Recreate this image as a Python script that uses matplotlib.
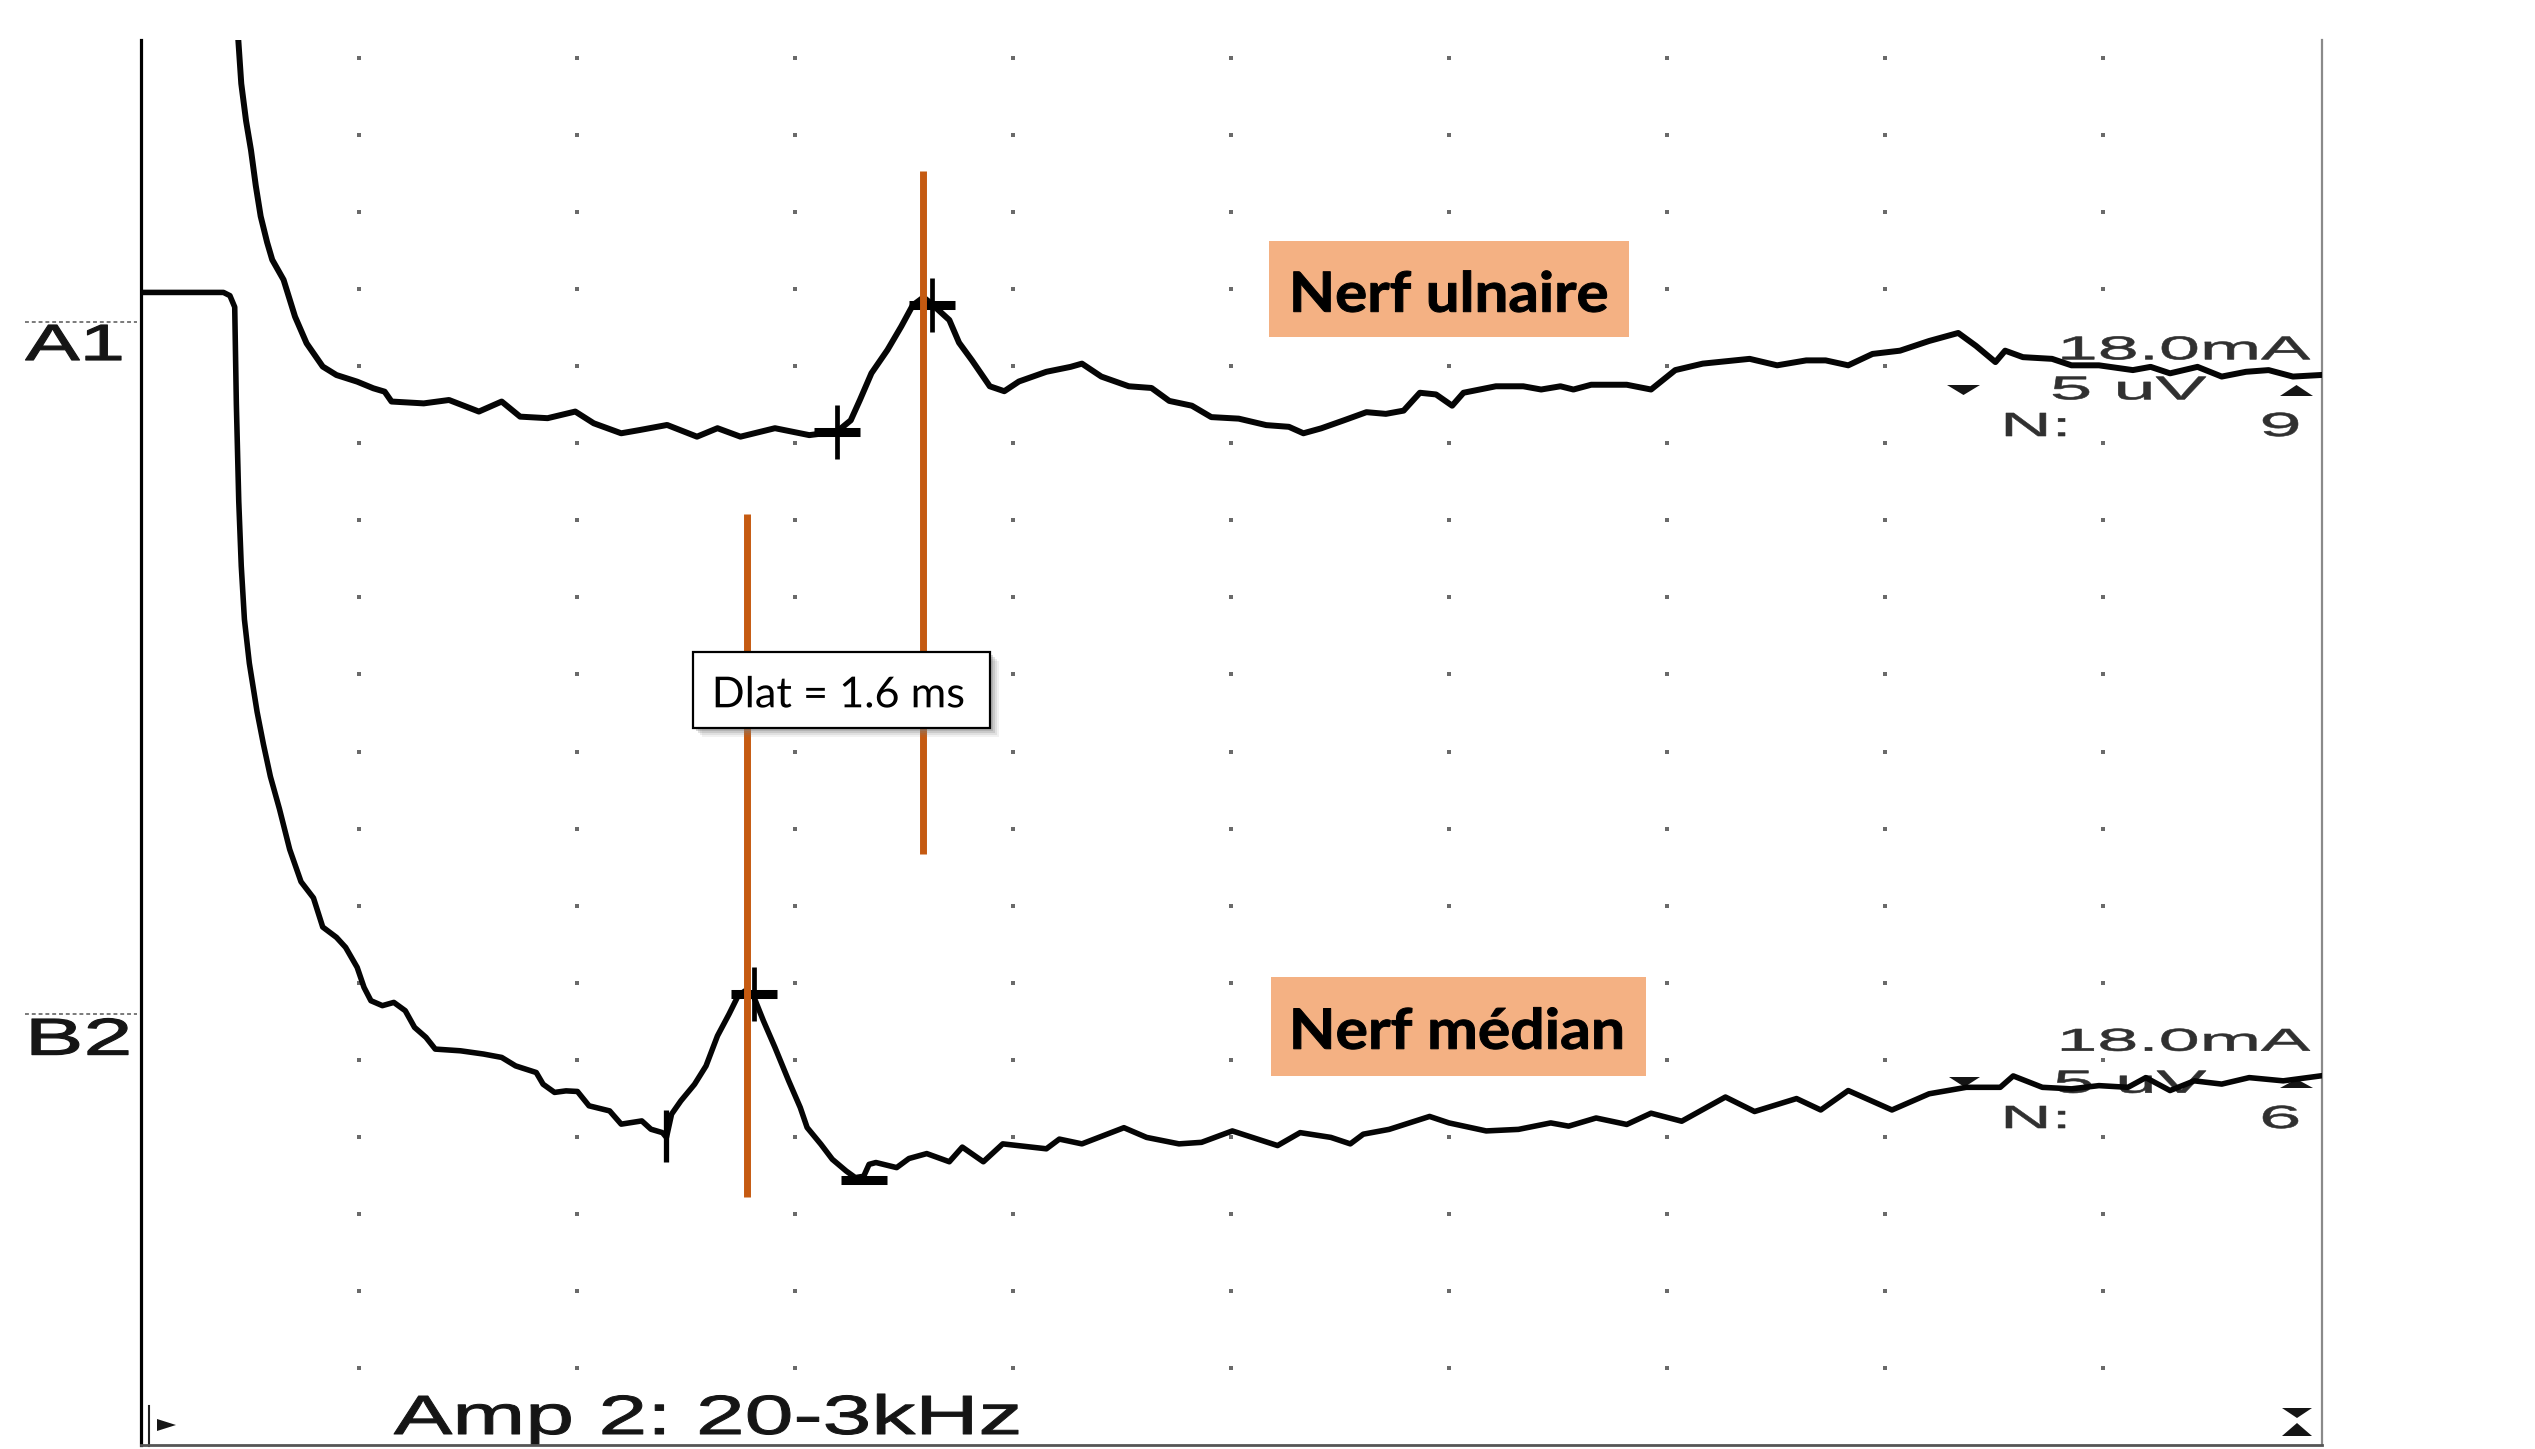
import numpy as np
import matplotlib
matplotlib.use("Agg")
import matplotlib.pyplot as plt
from matplotlib.patches import Rectangle, Polygon
from matplotlib.lines import Line2D
from matplotlib.patheffects import AbstractPathEffect
from matplotlib.transforms import Affine2D
from matplotlib.textpath import TextPath
from matplotlib.font_manager import FontProperties

W, H, DPI = 2535, 1449, 100

# ---------------- data (time in ms, amplitude in uV; 2 ms/div, 5 uV/div) ----------------
a1_time = [0.887, 0.924, 0.968, 1.013, 1.057, 1.102, 1.161, 1.208, 1.312, 1.417, 1.523, 1.671,
           1.797, 1.987, 2.135, 2.239, 2.302, 2.597, 2.829, 3.103, 3.312, 3.481, 3.733, 3.987,
           4.156, 4.408, 4.577, 4.829, 5.103, 5.291, 5.502, 5.818, 6.133, 6.387, 6.513, 6.597,
           6.703, 6.850, 6.976, 7.081, 7.180, 7.254, 7.417, 7.506, 7.625, 7.788, 7.921, 8.055,
           8.307, 8.529, 8.633, 8.811, 9.063, 9.271, 9.434, 9.641, 9.819, 10.071, 10.323, 10.531,
           10.664, 10.827, 11.035, 11.242, 11.420, 11.583, 11.732, 11.880, 12.028, 12.132, 12.429,
           12.680, 12.844, 13.021, 13.140, 13.303, 13.629, 13.852, 14.074, 14.326, 14.756, 15.008,
           15.275, 15.453, 15.660, 15.883, 16.135, 16.402, 16.669, 16.832, 17.010, 17.099, 17.262,
           17.529, 17.707, 17.959, 18.270, 18.433, 18.611, 18.863, 19.085, 19.308, 19.515, 19.738,
           19.990]
a1_uv = [92.2, 88.34, 85.92, 84.03, 81.72, 79.73, 78.04, 76.91, 75.61, 73.22, 71.49, 69.98,
         69.43, 69.00, 68.57, 68.35, 67.71, 67.59, 67.81, 67.06, 67.71, 66.73, 66.63, 67.06,
         66.30, 65.65, 65.86, 66.19, 65.43, 65.98, 65.43, 65.98, 65.53, 65.76, 66.49, 67.81,
         69.55, 71.06, 72.58, 73.95, 74.47, 74.05, 73.00, 71.53, 70.38, 68.70, 68.38, 69.01,
         69.64, 69.96, 70.17, 69.33, 68.70, 68.59, 67.75, 67.44, 66.70, 66.60, 66.18, 66.07,
         65.65, 65.97, 66.49, 67.02, 66.91, 67.12, 68.28, 68.17, 67.44, 68.28, 68.70,
         68.70, 68.49, 68.70, 68.49, 68.80, 68.80, 68.49, 69.75, 70.17, 70.48, 70.06,
         70.38, 70.38, 70.06, 70.80, 71.01, 71.64, 72.16, 71.32, 70.27, 71.01, 70.59,
         70.48, 70.06, 70.06, 69.75, 69.96, 69.54, 69.96, 69.33, 69.64, 69.75, 69.33,
         69.43]

b2_time = [0.000, 0.761, 0.820, 0.864, 0.879, 0.901, 0.924, 0.953, 0.998, 1.069, 1.127, 1.191,
           1.274, 1.368, 1.472, 1.586, 1.671, 1.797, 1.881, 1.987, 2.050, 2.113, 2.218, 2.323,
           2.428, 2.513, 2.618, 2.703, 2.934, 3.145, 3.312, 3.440, 3.629, 3.692, 3.797, 3.902,
           4.007, 4.113, 4.302, 4.408, 4.597, 4.681, 4.786, 4.823, 4.870, 4.955, 5.081, 5.186,
           5.291, 5.397, 5.481, 5.545, 5.623, 5.712, 5.818, 5.944, 6.050, 6.113, 6.239, 6.344,
           6.471, 6.555, 6.632, 6.681, 6.744, 6.934, 7.047, 7.210, 7.417, 7.536, 7.729, 7.907,
           8.307, 8.426, 8.633, 9.018, 9.226, 9.523, 9.730, 10.012, 10.427, 10.634, 10.916,
           11.094, 11.213, 11.450, 11.821, 11.999, 12.340, 12.636, 12.932, 13.096, 13.348,
           13.629, 13.852, 14.133, 14.534, 14.801, 15.186, 15.408, 15.660, 16.061, 16.402,
           16.743, 17.054, 17.173, 17.440, 17.707, 17.959, 18.225, 18.389, 18.611, 18.833,
           19.085, 19.337, 19.649, 19.990]
b2_uv = [74.79, 74.79, 74.58, 73.84, 67.54, 61.24, 57.04, 53.57, 50.73, 47.58, 45.48, 43.38,
         41.28, 38.65, 36.55, 35.50, 33.61, 32.94, 32.29, 30.99, 29.69, 28.83, 28.51, 28.72,
         28.18, 27.10, 26.45, 25.69, 25.58, 25.37, 25.15, 24.60, 24.17, 23.41, 22.88, 22.98,
         22.94, 22.01, 21.68, 20.82, 21.03, 20.49, 20.27, 19.96, 21.47, 22.33, 23.41, 24.60,
         26.55, 27.96, 29.16, 29.47, 29.10, 27.53, 25.80, 23.63, 21.90, 20.60, 19.52, 18.54,
         17.78, 17.35, 17.44, 18.21, 18.33, 18.00, 18.59, 18.91, 18.38, 19.33, 18.38, 19.54,
         19.22, 19.85, 19.54, 20.59, 19.96, 19.54, 19.64, 20.38, 19.43, 20.27, 19.96,
         19.54, 20.17, 20.48, 21.32, 20.90, 20.38, 20.48, 20.90, 20.69, 21.22,
         20.80, 21.53, 21.01, 22.58, 21.64, 22.48, 21.74, 23.00, 21.74, 22.79,
         23.21, 23.21, 23.95, 23.21, 23.11, 23.32, 23.21, 23.84, 23.00, 23.63,
         23.42, 23.84, 23.63, 23.95]

# cursor markers placed on the traces (time ms, amplitude uV)
a1_onset = (6.387, 65.76)
a1_peak = (7.254, 73.95)
b2_onset = (4.820, 20.06)
b2_peak = (5.628, 29.26)
b2_trough = (6.639, 17.17)

# orange latency lines (ms) and their vertical extent (uV)
cursor_ms = [5.564, 7.180]
cursor_lo = [16.07, 38.34]
cursor_hi = [60.40, 82.67]

trace_names = ["A1", "B2"]
stim_labels = ["18.0mA", "18.0mA"]
gain_labels = ["5 uV", "5 uV"]
n_labels = ["9", "6"]
nerve_labels = ["Nerf ulnaire", "Nerf médian"]
dlat_label = "Dlat = 1.6 ms"
amp_label = "Amp 2: 20-3kHz"

ORANGE = "#C55A11"
BOXC = "#F4B183"

# ---------------- figure ----------------
fig = plt.figure(figsize=(W / DPI, H / DPI), dpi=DPI)
fig.patch.set_facecolor("white")
ax = fig.add_axes([140.5 / W, 1 - 1445 / H, (2321.5 - 140.5) / W, (1445 - 40) / H])
ax.set_xlim(0, 20)
ax.set_ylim(0, 91.17)
ax.set_xticks([])
ax.set_yticks([])
ax.set_facecolor("white")
ax.spines["top"].set_visible(False)
ax.spines["left"].set_color("black")
ax.spines["left"].set_linewidth(2.3)
ax.spines["right"].set_color("#8a8a8a")
ax.spines["right"].set_linewidth(1.6)
ax.spines["bottom"].set_color("#555555")
ax.spines["bottom"].set_linewidth(2.0)

# graticule dots
gx, gy = np.meshgrid(np.arange(2, 20, 2), np.arange(5, 91, 5))
ax.scatter(gx.ravel(), gy.ravel(), marker="s", s=5, color="#6a6a6a", linewidths=0, zorder=1)

# traces
ax.plot(a1_time, a1_uv, color="#050505", lw=4.3, solid_joinstyle="round", zorder=3)
ax.plot(b2_time, b2_uv, color="#050505", lw=4.0, solid_joinstyle="round", zorder=3)

# cursor markers
for (t, v) in [a1_onset, a1_peak, b2_peak]:
    ax.plot([t], [v], marker="|", ms=39, mew=3.4, color="k", zorder=3)
    ax.plot([t], [v], marker="_", ms=33, mew=6.5, color="k", zorder=3)
ax.plot([b2_onset[0]], [b2_onset[1]], marker="|", ms=38, mew=3.8, color="k", zorder=3)
ax.plot([b2_trough[0]], [b2_trough[1]], marker="_", ms=33, mew=6.5, color="k", zorder=3)

# orange latency lines
ax.vlines(cursor_ms, cursor_lo, cursor_hi, colors=ORANGE, lw=5.0, zorder=4)


# ---------------- helpers ----------------
def fx(x):
    return x / W


def fy(y):
    return 1 - y / H


class HStretch(AbstractPathEffect):
    """Horizontal stretch (and optional embolden) of glyph outlines; text stays a Text artist."""

    def __init__(self, sx, bold_px=0.0):
        super().__init__()
        self.sx = sx
        self.bold_px = bold_px

    def draw_path(self, renderer, gc, tpath, affine, rgbFace=None):
        tr = Affine2D().scale(self.sx, 1.0) + affine
        renderer.draw_path(gc, tpath, tr, rgbFace)
        if self.bold_px > 0 and rgbFace is not None:
            gc0 = renderer.new_gc()
            gc0.copy_properties(gc)
            gc0.set_foreground(rgbFace)
            gc0.set_linewidth(self.bold_px * 72.0 / DPI)
            renderer.draw_path(gc0, tpath, tr, None)
            gc0.restore()


def put_text(s, x_left, baseline, cap_px, ink_w, family="Liberation Sans", weight="normal",
             color="#151515", zorder=2.5, bold_px=0.0):
    fp = FontProperties(family=family, weight=weight)
    cap_per_pt = TextPath((0, 0), "H", size=100, prop=fp).get_extents().height / 100.0
    fs = cap_px * 72.0 / DPI / cap_per_pt
    fp.set_size(fs)
    ext = TextPath((0, 0), s, size=fs, prop=fp).get_extents()
    nat_w = ext.width * DPI / 72.0
    sx = ink_w / nat_w
    x0 = x_left - ext.x0 * DPI / 72.0 * sx
    t = ax.text(fx(x0), fy(baseline), s, fontproperties=fp, color=color, ha="left",
                va="baseline", transform=fig.transFigure, zorder=zorder, clip_on=False)
    t.set_path_effects([HStretch(sx, bold_px)])
    return t


def tri(pts, color="#151515", z=2.5):
    p = Polygon([(fx(a), fy(b)) for a, b in pts], closed=True, facecolor=color,
                edgecolor="none", transform=fig.transFigure, zorder=z, clip_on=False)
    ax.add_patch(p)


# ---------------- device (oscilloscope) texts ----------------
put_text(trace_names[0], 25.5, 360, 35, 95.5, bold_px=1.2)
put_text(trace_names[1], 32, 1054.6, 35.6, 96, bold_px=1.2)
for yl in (321.7, 1014):
    ax.add_line(Line2D([fx(25), fx(137)], [fy(yl), fy(yl)], color="#7a7a7a", lw=1.4,
                       ls=(0, (2, 1.5)), transform=fig.transFigure, clip_on=False, zorder=2))

# A1 side info
put_text(stim_labels[0], 2062.5, 359.3, 22.6, 247.5, color="#303030", bold_px=0.6)
put_text(gain_labels[0], 2053, 399.3, 22.6, 153, color="#303030", bold_px=0.6)
put_text("N:", 2006, 436, 23, 59, color="#303030", bold_px=0.6)
put_text(n_labels[0], 2263, 436, 23, 35, color="#303030", bold_px=0.6)
tri([(1947, 385), (1980, 385), (1963.5, 395)])
tri([(2280, 396), (2313, 396), (2296.5, 385)])

# B2 side info
put_text(stim_labels[1], 2062, 1050.7, 21.7, 248, color="#303030", bold_px=0.6)
put_text(gain_labels[1], 2056, 1092.7, 22.0, 150, color="#303030", bold_px=0.6)
put_text("N:", 2006, 1128, 22, 59, color="#303030", bold_px=0.6)
put_text(n_labels[1], 2263, 1128, 22, 35, color="#303030", bold_px=0.6)
tri([(1949, 1077), (1980, 1077), (1964.5, 1087)])
tri([(2280, 1088), (2313, 1088), (2296.5, 1079)])

# bottom status line
put_text(amp_label, 394, 1434, 38, 624, bold_px=1.0)
tri([(157, 1419), (157, 1431), (176, 1425)])
ax.add_line(Line2D([fx(149), fx(149)], [fy(1406), fy(1446)], color="#222222", lw=1.5,
                   transform=fig.transFigure, clip_on=False, zorder=2))
tri([(2282, 1408), (2312, 1408), (2297, 1418)])
tri([(2282, 1436), (2312, 1436), (2297, 1423)])

# ---------------- annotation boxes ----------------
def rect(x0, y0, x1, y1, fc, ec="none", lw=0, z=6, alpha=1.0):
    r = Rectangle((fx(x0), fy(y1)), (x1 - x0) / W, (y1 - y0) / H, facecolor=fc, edgecolor=ec,
                  linewidth=lw, transform=fig.transFigure, zorder=z, clip_on=False, alpha=alpha)
    ax.add_patch(r)


rect(1269, 241, 1629, 337, BOXC)
put_text(nerve_labels[0], 1293.7, 311.7, 40, 313, family="Lato", weight="bold",
         color="black", zorder=7, bold_px=1.0)
rect(1271, 977, 1646, 1076, BOXC)
put_text(nerve_labels[1], 1293.7, 1048.8, 40.3, 328, family="Lato", weight="bold",
         color="black", zorder=7, bold_px=1.0)

# Dlat box with soft shadow
for k, a in [(9, 0.10), (7, 0.15), (5, 0.22), (3, 0.30)]:
    rect(693 + k, 652 + k, 990 + k, 728 + k, "#7f7f7f", z=5.5, alpha=a)
rect(693, 652, 990, 728, "white", ec="black", lw=1.6, z=6)
put_text(dlat_label, 715.7, 707.3, 30.6, 247.6, family="Lato", weight="normal",
         color="black", zorder=7)

fig.savefig("out.png", dpi=DPI, facecolor="white")
